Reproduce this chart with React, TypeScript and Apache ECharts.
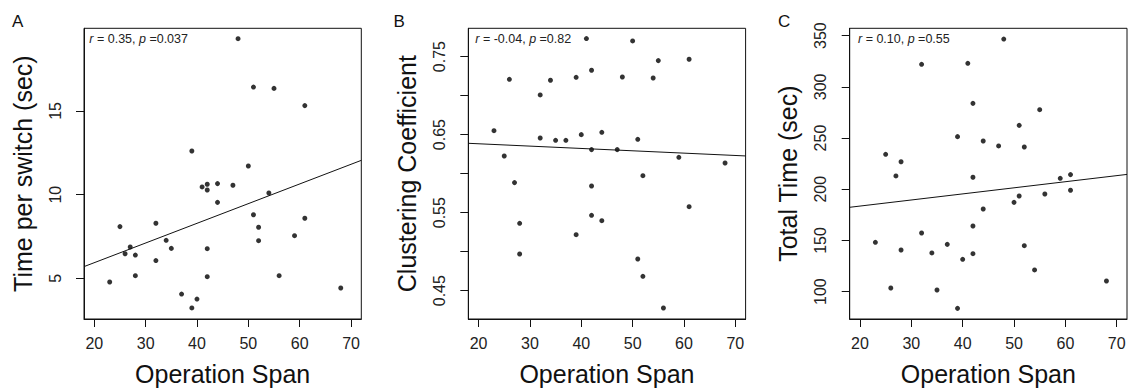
import React, { useEffect, useRef } from "react";
import * as echarts from "echarts";

// Panel A: Operation Span vs Time per switch (sec)
const spanA = [48, 51, 55, 61, 39, 50, 41, 42, 42, 44, 47, 54, 44, 51, 61, 52, 52, 59, 25, 32, 27, 26, 28, 34, 35, 32, 42, 28, 23, 42, 56, 37, 40, 39, 68];
const switchTime = [19.32, 16.43, 16.35, 15.32, 12.61, 11.71, 10.46, 10.62, 10.28, 10.66, 10.56, 10.1, 9.54, 8.8, 8.59, 8.05, 7.25, 7.55, 8.09, 8.29, 6.87, 6.47, 6.39, 7.27, 6.79, 6.06, 6.77, 5.16, 4.78, 5.1, 5.16, 4.06, 3.76, 3.23, 4.42];
const fitA = [[18, 5.7], [72, 12.05]];

// Panel B: Operation Span vs Clustering Coefficient
const spanB = [41, 50, 55, 61, 42, 26, 34, 39, 48, 54, 32, 23, 32, 35, 37, 40, 44, 51, 42, 47, 25, 59, 68, 52, 27, 42, 61, 42, 44, 28, 39, 28, 51, 52, 56];
const clustering = [0.7731, 0.7701, 0.7449, 0.7466, 0.7325, 0.7209, 0.7197, 0.7235, 0.7239, 0.7226, 0.7009, 0.6551, 0.6457, 0.6427, 0.6427, 0.65, 0.653, 0.644, 0.6308, 0.6308, 0.6226, 0.6209, 0.6137, 0.5974, 0.5885, 0.5842, 0.5577, 0.5466, 0.5397, 0.5363, 0.5218, 0.497, 0.4906, 0.4684, 0.4278];
const fitB = [[18, 0.6389], [72, 0.6227]];

// Panel C: Operation Span vs Total Time (sec)
const spanC = [48, 32, 41, 42, 55, 51, 39, 44, 47, 52, 25, 28, 27, 42, 59, 61, 61, 56, 51, 50, 44, 42, 32, 23, 37, 28, 52, 34, 42, 40, 54, 68, 26, 35, 39];
const totalTime = [346.7, 322.0, 323.0, 283.9, 277.7, 262.4, 251.4, 247.1, 242.3, 241.3, 234.1, 226.9, 213.0, 211.7, 210.7, 214.3, 199.0, 195.4, 193.4, 187.2, 180.7, 164.1, 157.3, 148.2, 146.2, 140.7, 144.9, 137.8, 137.1, 131.6, 121.2, 110.4, 103.6, 101.6, 83.7];
const fitC = [[18, 182.4], [72, 214.5]];

// Axis ticks / labels
const xTicks = [20, 30, 40, 50, 60, 70];
const yTicksA = [5, 10, 15];
const yTicksB = [0.45, 0.5, 0.55, 0.6, 0.65, 0.7, 0.75];
const yLabelsB = [0.45, 0.55, 0.65, 0.75];
const yTicksC = [100, 150, 200, 250, 300, 350];

const xTitle = "Operation Span";
const yTitles = ["Time per switch (sec)", "Clustering Coefficient", "Total Time (sec)"];
const panelLetters = ["A", "B", "C"];
const statsText = [
  "{i|r} = 0.35, {i|p} =0.037",
  "{i|r} = -0.04, {i|p} =0.82",
  "{i|r} = 0.10, {i|p} =0.55",
];

const FONT = "'Liberation Sans', Arial, Helvetica, sans-serif";
const gridLefts = [84, 468.3, 849.7];
const GRID_TOP = 28.3;
const GRID_W = 277.3;
const GRID_H = 290.7;

function zip(xs: number[], ys: number[]) {
  return xs.map((x, i) => [x, ys[i]]);
}

export default function App() {
  const ref = useRef<HTMLDivElement>(null);

  useEffect(() => {
    if (!ref.current) return;
    const chart = echarts.init(ref.current, undefined, { renderer: "svg" });

    const grids = gridLefts.map((left) => ({
      left,
      top: GRID_TOP,
      width: GRID_W,
      height: GRID_H,
      show: true,
      borderColor: "#111",
      borderWidth: 1,
      backgroundColor: "transparent",
      outerBoundsMode: "none",
      containLabel: false,
    }));

    const xAxes = [0, 1, 2].map((g) => ({
      type: "value",
      gridIndex: g,
      min: 18,
      max: 72,
      name: xTitle,
      nameLocation: "middle",
      nameGap: 42,
      nameTextStyle: { fontSize: 25, color: "#111", fontFamily: FONT },
      axisLine: { show: true, lineStyle: { color: "#111", width: 1 } },
      axisTick: { show: true, length: 8, customValues: xTicks, lineStyle: { color: "#111" } },
      axisLabel: { show: true, customValues: xTicks, margin: 16, fontSize: 16, color: "#222", fontFamily: FONT },
      splitLine: { show: false },
    }));

    const yRanges = [
      [2.57, 19.94],
      [0.4137, 0.7863],
      [73.3, 357.2],
    ];
    const yTickSets = [yTicksA, yTicksB, yTicksC];
    const yLabelSets = [yTicksA, yLabelsB, yTicksC];

    const yAxes = [0, 1, 2].map((g) => ({
      type: "value",
      gridIndex: g,
      min: yRanges[g][0],
      max: yRanges[g][1],
      name: yTitles[g],
      nameLocation: "middle",
      nameGap: 49,
      nameTextStyle: { fontSize: 25, color: "#111", fontFamily: FONT },
      axisLine: { show: true, lineStyle: { color: "#111", width: 1 } },
      axisTick: { show: true, length: 8, customValues: yTickSets[g], lineStyle: { color: "#111" } },
      axisLabel: {
        show: true,
        customValues: yLabelSets[g],
        rotate: 90,
        margin: 21,
        fontSize: 16,
        color: "#222",
        fontFamily: FONT,
        formatter: (v: number) => (g === 1 ? v.toFixed(2) : String(v)),
      },
      splitLine: { show: false },
    }));

    const pts = [zip(spanA, switchTime), zip(spanB, clustering), zip(spanC, totalTime)];
    const fits = [fitA, fitB, fitC];

    const series: any[] = [];
    [0, 1, 2].forEach((g) => {
      series.push({
        type: "scatter",
        xAxisIndex: g,
        yAxisIndex: g,
        data: pts[g],
        symbol: "circle",
        symbolSize: 5,
        itemStyle: { color: "#000" },
        silent: true,
      });
      series.push({
        type: "line",
        xAxisIndex: g,
        yAxisIndex: g,
        data: fits[g],
        showSymbol: false,
        symbol: "none",
        lineStyle: { color: "#111", width: 1 },
        silent: true,
      });
    });

    const letterX = [12, 393.5, 778];
    const statsX = [89.3, 475.3, 858];

    const graphic: any[] = [];
    [0, 1, 2].forEach((g) => {
      graphic.push({
        type: "text",
        x: letterX[g],
        y: 21,
        style: {
          text: panelLetters[g],
          fontSize: 17,
          fontFamily: FONT,
          fill: "#111",
          verticalAlign: "middle",
          align: "left",
        },
      });
      graphic.push({
        type: "text",
        x: statsX[g],
        y: 39,
        style: {
          text: statsText[g],
          fontSize: 12.5,
          fontFamily: FONT,
          fill: "#222",
          verticalAlign: "middle",
          align: "left",
          rich: {
            i: { fontStyle: "italic", fontSize: 12.5, fontFamily: FONT, fill: "#222" },
          },
        },
      });
    });

    chart.setOption({
      animation: false,
      backgroundColor: "#fff",
      grid: grids,
      xAxis: xAxes,
      yAxis: yAxes,
      series,
      graphic,
    });

    return () => {
      chart.dispose();
    };
  }, []);

  return (
    <div
      ref={ref}
      style={{ position: "absolute", left: 0, top: 0, width: 1128, height: 391 }}
    />
  );
}
